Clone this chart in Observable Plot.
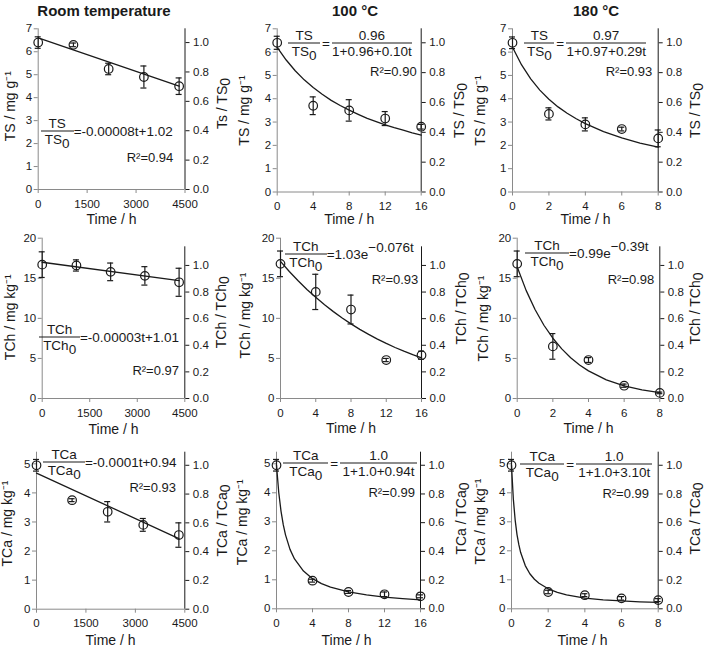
<!DOCTYPE html>
<html><head><meta charset="utf-8">
<script src="https://cdn.jsdelivr.net/npm/d3@7"></script>
<script src="https://cdn.jsdelivr.net/npm/@observablehq/plot@0.6"></script>
<style>
body{margin:0;background:#fff}
#chart{position:relative;width:709px;height:649px;font-family:"Liberation Sans",Arial,sans-serif;color:#1a1a1a;overflow:hidden;background:#fff}
#chart svg{position:absolute}
.title{position:absolute;font-family:"Liberation Sans",Arial,sans-serif;font-weight:bold;font-size:15px;transform:translate(-50%,-50%);white-space:nowrap}
.eq{position:absolute;display:flex;align-items:center;transform:translateY(-50%);font-size:13.5px;white-space:nowrap}
.frac{display:inline-flex;flex-direction:column;align-items:center}
.frac .n{border-bottom:1px solid #1a1a1a;width:100%;text-align:center;line-height:15px}
.frac .d{line-height:15px;width:100%;text-align:center}
.sub{position:relative;top:4px}
.sup{position:relative;top:-7px}
.eqs{margin:0 2px}
.r2{position:absolute;transform:translate(-100%,-50%);font-size:13px;white-space:nowrap}
</style></head><body><div id="chart"></div><script>
// ---------- data ----------
const titles = ["Room temperature", "100 °C", "180 °C"];
const xLabel = "Time / h";
const leftLabels = ["TS / mg g⁻¹", "TCh / mg kg⁻¹", "TCa / mg kg⁻¹"];
const rightLabels = [["Ts / TS₀", "TS / TS₀", "TS / TS₀"], ["TCh / TCh₀", "TCh / TCh₀", "TCh / TCh₀"], ["TCa / TCa₀", "TCa / TCa₀", "TCa / TCa₀"]];
const ratioTicks = [0, 0.2, 0.4, 0.6, 0.8, 1.0];
const xTicksRoom = [0, 1500, 3000, 4500];
const xTicks100 = [0, 4, 8, 12, 16];
const xTicks180 = [0, 2, 4, 6, 8];
const yTicksTS = [0, 1, 2, 3, 4, 5, 6, 7];
const yTicksTCh = [0, 5, 10, 15, 20];
const yTicksTCa = [0, 1, 2, 3, 4, 5];
const initialValues = [6.4, 16.6, 4.95]; // TS0, TCh0, TCa0 (ratio axis reference)

const tRoom = [0, 1080, 2160, 3240, 4320];
const t100 = [0, 4, 8, 12, 16];
const t180 = [0, 2, 4, 6, 8];

const tsRoom = [6.4, 6.3, 5.25, 4.9, 4.5];
const tsRoomErr = [0.25, 0.08, 0.25, 0.48, 0.36];
const ts100 = [6.4, 3.7, 3.5, 3.15, 2.8];
const ts100Err = [0.28, 0.38, 0.46, 0.3, 0.1];
const ts180 = [6.4, 3.35, 2.9, 2.7, 2.3];
const ts180Err = [0.25, 0.26, 0.28, 0.08, 0.36];

const tchRoom = [16.7, 16.6, 15.8, 15.3, 14.5];
const tchRoomErr = [1.6, 0.7, 1.1, 1.15, 1.75];
const tch100 = [16.8, 13.3, 11.1, 4.8, 5.4];
const tch100Err = [1.6, 2.2, 1.8, 0.2, 0.5];
const tch180 = [16.8, 6.5, 4.8, 1.6, 0.7];
const tch180Err = [1.6, 1.6, 0.3, 0.2, 0.1];

const tcaRoom = [4.95, 3.75, 3.35, 2.9, 2.55];
const tcaRoomErr = [0.2, 0.05, 0.35, 0.22, 0.42];
const tca100 = [4.95, 0.97, 0.58, 0.5, 0.43];
const tca100Err = [0.2, 0.05, 0.05, 0.08, 0.05];
const tca180 = [4.95, 0.58, 0.47, 0.36, 0.3];
const tca180Err = [0.2, 0.06, 0.05, 0.06, 0.05];

// fitted curves
const fitRoomT = [0, 4320];
const fitTsRoom = [6.6, 4.5];
const fitTchRoom = [17.0, 14.7];
const fitTcaRoom = [4.68, 2.43];
const fit100T = [0, 1, 2, 3, 4, 5, 6, 7, 8, 9, 10, 11, 12, 13, 14, 15, 16];
const fitTs100 = [6.2, 5.66, 5.2, 4.81, 4.48, 4.19, 3.93, 3.71, 3.51, 3.33, 3.16, 3.02, 2.88, 2.76, 2.65, 2.54, 2.44];
const fitTch100 = [17.1, 15.85, 14.69, 13.61, 12.62, 11.69, 10.84, 10.04, 9.31, 8.63, 8.0, 7.41, 6.87, 6.36, 5.9, 5.47, 5.07];
const fit180T = [0, 0.5, 1, 1.5, 2, 2.5, 3, 3.5, 4, 5, 6, 7, 8];
const fitTs180 = [6.21, 5.45, 4.85, 4.37, 3.98, 3.65, 3.38, 3.14, 2.93, 2.59, 2.32, 2.1, 1.92];
const fitTch180 = [16.4, 13.49, 11.1, 9.14, 7.52, 6.19, 5.09, 4.19, 3.45, 2.33, 1.58, 1.07, 0.72];
const fitTca100T = [0, 0.25, 0.5, 0.75, 1, 1.5, 2, 3, 4, 5, 6, 8, 10, 12, 14, 16];
const fitTca100 = [4.95, 4.01, 3.37, 2.9, 2.55, 2.05, 1.72, 1.3, 1.04, 0.87, 0.75, 0.58, 0.48, 0.4, 0.35, 0.31];
const fitTca180T = [0, 0.1, 0.2, 0.3, 0.4, 0.5, 0.75, 1, 1.25, 1.5, 2, 2.5, 3, 4, 5, 6, 7, 8];
const fitTca180 = [4.95, 3.78, 3.06, 2.56, 2.21, 1.94, 1.49, 1.21, 1.02, 0.88, 0.69, 0.57, 0.48, 0.37, 0.31, 0.27, 0.24, 0.22];

const r2Labels = ["R²=0.94", "R²=0.90", "R²=0.93", "R²=0.97", "R²=0.93", "R²=0.98", "R²=0.93", "R²=0.99", "R²=0.99"];

// ---------- layout ----------
const cols = [[0, 232], [232, 468], [468, 709]];
const rows = [[0, 226], [226, 436], [436, 649]];
const yMaxByRow = [7, 20, 5.4];
const rTopByRow = [null, 1.14, null];
const yTicksByRow = [yTicksTS, yTicksTCh, yTicksTCa];

const panels = [
  {row:0,col:0,t:tRoom,v:tsRoom,e:tsRoomErr,fitT:fitRoomT,fitV:fitTsRoom,xMax:4500,xTicks:xTicksRoom,
   f:{L:37.7,R:184.5,T:28.3,B:189}, yl:[10,105.7], yr:[222.5,103], xl:[111,219.5]},
  {row:0,col:1,t:t100,v:ts100,e:ts100Err,fitT:fit100T,fitV:fitTs100,xMax:16,xTicks:xTicks100,
   f:{L:276.7,R:420.7,T:28.3,B:191.5}, yl:[244,110], yr:[459,110], xl:[348.7,219.5]},
  {row:0,col:2,t:t180,v:ts180,e:ts180Err,fitT:fit180T,fitV:fitTs180,xMax:8,xTicks:xTicks180,
   f:{L:512,R:657.7,T:28.3,B:191.5}, yl:[480,110], yr:[695,110], xl:[585,219.5]},
  {row:1,col:0,t:tRoom,v:tchRoom,e:tchRoomErr,fitT:fitRoomT,fitV:fitTchRoom,xMax:4500,xTicks:xTicksRoom,
   f:{L:41.7,R:184.3,T:237.7,B:398}, yl:[10,316.7], yr:[221,311.7], xl:[113,429]},
  {row:1,col:1,t:t100,v:tch100,e:tch100Err,fitT:fit100T,fitV:fitTch100,xMax:16,xTicks:xTicks100,
   f:{L:280,R:421,T:237.7,B:398}, yl:[245,315], yr:[461,308], xl:[350.5,428]},
  {row:1,col:2,t:t180,v:tch180,e:tch180Err,fitT:fit180T,fitV:fitTch180,xMax:8,xTicks:xTicks180,
   f:{L:516.7,R:659.3,T:237.7,B:398}, yl:[483,318], yr:[695,308], xl:[588,428]},
  {row:2,col:0,t:tRoom,v:tcaRoom,e:tcaRoomErr,fitT:fitRoomT,fitV:fitTcaRoom,xMax:4500,xTicks:xTicksRoom,
   f:{L:36,R:184.3,T:451.7,B:608.7}, yl:[7.5,523], yr:[222,520], xl:[110,640]},
  {row:2,col:1,t:t100,v:tca100,e:tca100Err,fitT:fitTca100T,fitV:fitTca100,xMax:16,xTicks:xTicks100,
   f:{L:276,R:420,T:451.7,B:608.3}, yl:[241.7,521.7], yr:[461,518], xl:[346,640]},
  {row:2,col:2,t:t180,v:tca180,e:tca180Err,fitT:fitTca180T,fitV:fitTca180,xMax:8,xTicks:xTicks180,
   f:{L:511,R:657.7,T:451.7,B:608.3}, yl:[480,521], yr:[695,518], xl:[582,640]}
];

const chart = document.getElementById("chart");
const gray = "#8a8a8a", ink = "#1a1a1a";
const FONT = "Liberation Sans, Arial, sans-serif";
const SVGNS = "http://www.w3.org/2000/svg";

function subscriptZero(svg) {
  svg.querySelectorAll("text").forEach(t => {
    if (t.children.length === 0 && t.textContent.includes("₀")) {
      const parts = t.textContent.split("₀");
      t.textContent = parts[0];
      const ts = document.createElementNS(SVGNS, "tspan");
      ts.setAttribute("dy", "3");
      ts.textContent = "0";
      t.appendChild(ts);
    }
  });
}

panels.forEach((p, k) => {
  const [x0, x1] = cols[p.col], [y0, y1] = rows[p.row];
  const f = p.f;
  const ref = initialValues[p.row];
  const yMax = yMaxByRow[p.row];
  const rTop = rTopByRow[p.row];
  const data = p.t.map((t, i) => ({t, v: p.v[i], e: p.e[i]}));
  const fit = p.fitT.map((t, i) => ({t, v: p.fitV[i]}));
  const lab = {fontSize: 14, fontWeight: "normal", lineAnchor: "middle", textAnchor: "middle", fill: ink, text: d => d};
  const svg = Plot.plot({
    width: x1 - x0, height: y1 - y0,
    marginLeft: f.L - x0, marginRight: x1 - f.R, marginTop: f.T - y0, marginBottom: y1 - f.B,
    x: {domain: [0, p.xMax]},
    y: {domain: [0, yMax]},
    style: {fontFamily: FONT, fontSize: "11.5px", color: ink, background: "transparent", overflow: "visible"},
    marks: [
      Plot.axisX({ticks: p.xTicks, tickFormat: d => String(d), tickSize: 4, tickPadding: 6, stroke: gray, fill: ink, fontSize: 11.5, label: null}),
      Plot.axisY({anchor: "left", ticks: yTicksByRow[p.row], tickFormat: d => String(d), tickSize: 4, tickPadding: 2, stroke: gray, fill: ink, fontSize: 11.5, label: null}),
      Plot.axisY({anchor: "right", ticks: ratioTicks.map(r => r * ref), tickFormat: d => (d / ref).toFixed(1), tickSize: 4, tickPadding: 4, stroke: ink, fill: ink, fontSize: 11.5, label: null}),
      Plot.ruleY([0], {stroke: gray}),
      Plot.ruleX([0], {stroke: gray}),
      Plot.ruleX([p.xMax], {y1: 0, y2: rTop ? rTop * ref : yMax, stroke: ink}),
      Plot.line(fit, {x: "t", y: "v", stroke: ink, strokeWidth: 1.3}),
      Plot.ruleX(data, {x: "t", y1: d => d.v - d.e, y2: d => d.v + d.e, stroke: ink, strokeWidth: 1.2}),
      Plot.ruleY(data, {y: d => d.v + d.e, x1: "t", x2: "t", insetLeft: -3, insetRight: -3, stroke: ink, strokeWidth: 1.2}),
      Plot.ruleY(data, {y: d => d.v - d.e, x1: "t", x2: "t", insetLeft: -3, insetRight: -3, stroke: ink, strokeWidth: 1.2}),
      Plot.dot(data, {x: "t", y: "v", r: 4.3, stroke: ink, strokeWidth: 1.2, fill: "none"}),
      Plot.text([xLabel], {...lab, frameAnchor: "bottom", dx: p.xl[0] - (f.L + f.R) / 2, dy: p.xl[1] - f.B}),
      Plot.text([leftLabels[p.row]], {...lab, frameAnchor: "left", dx: p.yl[0] - f.L, dy: p.yl[1] - (f.T + f.B) / 2, rotate: -90}),
      Plot.text([rightLabels[p.row][p.col]], {...lab, frameAnchor: "right", dx: p.yr[0] - f.R, dy: p.yr[1] - (f.T + f.B) / 2, rotate: -90})
    ]
  });
  subscriptZero(svg);
  svg.style.left = x0 + "px";
  svg.style.top = y0 + "px";
  chart.appendChild(svg);
});

// ---------- titles ----------
const titlePos = [[104, 10], [355, 10], [596, 10]];
titles.forEach((t, i) => {
  const d = document.createElement("div");
  d.className = "title";
  d.textContent = t;
  d.style.left = titlePos[i][0] + "px";
  d.style.top = titlePos[i][1] + "px";
  chart.appendChild(d);
});

// ---------- equations ----------
const sub0 = '<span class="sub">0</span>';
const sup = s => `<span class="sup">${s}</span>`;
const frac = (n, d, w) => `<span class="frac" style="width:${w}px"><span class="n">${n}</span><span class="d">${d}</span></span>`;
const eqs = [
  {x: 40.7, y: 131, html: frac("TS", "TS" + sub0, 33) + "<span>=-0.00008t+1.02</span>"},
  {x: 288.3, y: 43.3, html: frac("TS", "TS" + sub0, 31.7) + '<span class="eqs">=</span>' + frac("0.96", "1+0.96+0.10t", 80)},
  {x: 524.3, y: 43.3, html: frac("TS", "TS" + sub0, 30) + '<span class="eqs">=</span>' + frac("0.97", "1+0.97+0.29t", 80)},
  {x: 39.3, y: 336.7, html: frac("TCh", "TCh" + sub0, 40.7) + "<span>=-0.00003t+1.01</span>"},
  {x: 285, y: 254.3, html: frac("TCh", "TCh" + sub0, 41.7) + "<span>=1.03e" + sup("−0.076t") + "</span>"},
  {x: 525, y: 253.3, html: frac("TCh", "TCh" + sub0, 44) + "<span>=0.99e" + sup("−0.39t") + "</span>"},
  {x: 43.3, y: 462.3, html: frac("TCa", "TCa" + sub0, 41.7) + "<span>=-0.0001t+0.94</span>"},
  {x: 283.3, y: 463.3, html: frac("TCa", "TCa" + sub0, 45) + '<span class="eqs">=</span>' + frac("1.0", "1+1.0+0.94t", 76.7)},
  {x: 520, y: 464.3, html: frac("TCa", "TCa" + sub0, 44.3) + '<span class="eqs">=</span>' + frac("1.0", "1+1.0+3.10t", 76)}
];
eqs.forEach(q => {
  const d = document.createElement("div");
  d.className = "eq";
  d.innerHTML = q.html;
  d.style.left = q.x + "px";
  d.style.top = q.y + "px";
  chart.appendChild(d);
});
const r2Pos = [[173.3, 156.7], [416.7, 71], [652.3, 71], [179, 370], [418.3, 279.3], [654.3, 279.3], [176, 487.3], [415, 491.7], [649, 492.7]];
r2Labels.forEach((t, i) => {
  const d = document.createElement("div");
  d.className = "r2";
  d.textContent = t;
  d.style.left = r2Pos[i][0] + "px";
  d.style.top = r2Pos[i][1] + "px";
  chart.appendChild(d);
});
</script></body></html>
